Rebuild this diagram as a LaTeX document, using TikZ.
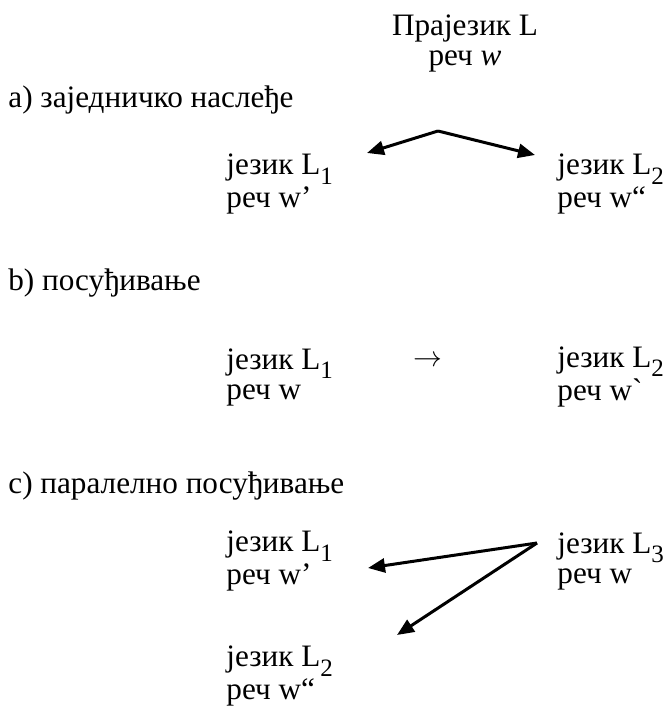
\documentclass[tikz,border=0pt]{standalone}
\usepackage{fontspec}
\setmainfont{Liberation Serif}
\usepackage{tikz}
\usetikzlibrary{arrows.meta}

% index uz L
\newcommand{\lsub}[1]{\raisebox{-0.65ex}{\fontsize{12.5pt}{12.5pt}\selectfont #1}}

\tikzset{
  lang/.style={align=left, inner sep=0pt, anchor=west},
  head/.style={inner sep=0pt, anchor=west},
  link/.style={line width=1.5pt, -{Triangle[length=8.5pt,width=7pt]}}
}

\begin{document}
\begin{tikzpicture}[x=0.5pt,y=-0.5pt,font=\fontsize{15.6pt}{15pt}\selectfont]
  \useasboundingbox (0,0) rectangle (663,710);

  % Prajezik
  \node[align=center, inner sep=0pt] (proto) at (465,43) {Прајезик L\\реч \textit{w}};

  % a) zajednicko nasledje
  \node[head] (ha) at (8,100) {a) заједничко наслеђе};
  \node[lang] (a1) at (226,184) {језик L\lsub{1}\\реч w’};
  \node[lang] (a2) at (557,184) {језик L\lsub{2}\\реч w“};
  \coordinate (split) at (438,131);
  \coordinate (enda1) at (367,153);
  \coordinate (enda2) at (535,155);
  \draw[link] (split) -- (enda1);
  \draw[link] (split) -- (enda2);

  % b) posudjivanje
  \node[head] (hb) at (8,283) {b) посуђивање};
  \node[lang] (b1) at (226,377) {језик L\lsub{1}\\реч w};
  \node[lang] (b2) at (557,377) {језик L\lsub{2}\\реч w\textasciigrave};
  \node[inner sep=0pt] (btob) at (428,361) {$\rightarrow$};

  % c) paralelno posudjivanje
  \node[head] (hc) at (8,486) {c) паралелно посуђивање};
  \node[lang] (c1) at (226,561) {језик L\lsub{1}\\реч w’};
  \node[lang] (c3) at (557,561) {језик L\lsub{3}\\реч w};
  \node[lang] (c2) at (226,676) {језик L\lsub{2}\\реч w“};
  \coordinate (fork) at (537,543);
  \coordinate (endc1) at (368,568);
  \coordinate (endc2) at (397,635);
  \draw[link] (fork) -- (endc1);
  \draw[link] (fork) -- (endc2);
\end{tikzpicture}
\end{document}
